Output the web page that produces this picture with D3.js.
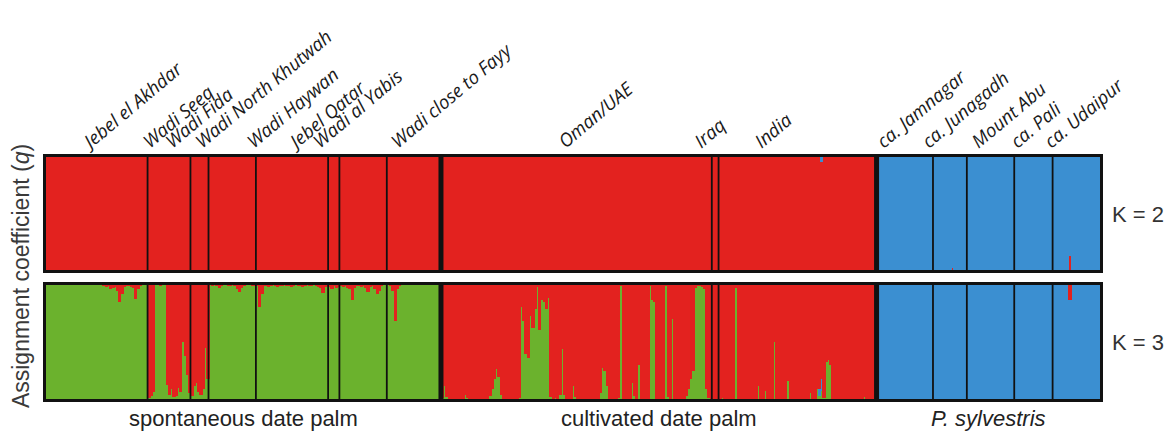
<!DOCTYPE html>
<html>
<head>
<meta charset="utf-8">
<script src="https://cdn.jsdelivr.net/npm/d3@7"></script>
<style>
  body { margin: 0; background: #fff; }
  svg { display: block; }
</style>
</head>
<body>
<svg id="chart" width="1175" height="432"></svg>
<script>
// ---------------------------------------------------------------
// STRUCTURE assignment plot, K = 2 and K = 3
// ---------------------------------------------------------------

const groups = ["spontaneous date palm", "cultivated date palm", "P. sylvestris"];

const populations = [
  "Jebel el Akhdar", "Wadi Seeq", "Wadi Fida", "Wadi North Khutwah", "Wadi Haywan",
  "Jebel Qatar", "Wadi al Yabis", "Wadi close to Fayy",
  "Oman/UAE", "Iraq", "India",
  "ca. Jamnagar", "ca. Junagadh", "Mount Abu", "ca. Pali", "ca. Udaipur"
];
const populationGroup = [0, 0, 0, 0, 0, 0, 0, 0, 1, 1, 1, 2, 2, 2, 2, 2];
const populationSize  = [45, 19, 8, 21, 32, 5, 21, 24, 120, 3, 70, 25, 15, 21, 17, 21];

// K = 3, spontaneous date palm: q of the red cluster per individual (rest green)
const k3RedSpontaneous = [
  [0,0,0,0,0,0,0,0,0,0, 0,0,0,0,0,0,0,0,0,0, 0,0,0,0,0.01, 0.02,0.03,0.02,0.05,0.04,
   0.03,0.06,0.16,0.09,0.03, 0.02,0.02,0.03,0.04,0.13, 0.05,0.02,0.01,0.01,0.01],
  [0.98,0.96,0.93, 0.01,0,0.02,0,0.01, 0.87,0.95,0.9,0.97,0.96,0.89,0.93,0.5,0.62,0.78,0.94],
  [0.96,0.88,0.85,0.93,0.95,0.9,0.55,0.82],
  [0.01,0.02,0.01,0.02,0.04,0.02,0.01,0.01,0.02,0.02,0.01,0.02,0.05,0.07,0.04,0.02,0.01,0.01,0.01,0.02,0.01],
  [0.02,0.2,0.09,0.02,0.02,0.03,0.02,0.01,0.02,0.03, 0.02,0.02,0.01,0.02,0.02,0.03,0.02,0.01,0.02,0.02,
   0.03,0.02,0.01,0.02,0.02,0.01,0.02,0.03,0.04,0.08, 0.03,0.02],
  [0.03,0.05,0.02,0.04,0.03],
  [0.02,0.03,0.02,0.04,0.05,0.14,0.04,0.02,0.02,0.03,0.02,0.04,0.07,0.03,0.02,0.05,0.09,0.06,0.02,0.01,0.01],
  [0.01,0.02,0.06,0.32,0.05,0.02,0.01,0.01,0.01,0,0,0.01,0,0,0,0,0,0,0,0,0,0,0,0]
];

// K = 3, cultivated date palm: q of the green cluster per individual (rest red)
const k3GreenCultivated = [
  [0.02,0.12,0.03,0,0,0,0,0,0,0,
   0.05,0.02,0,0,0,0,0,0,0,0,
   0,0.04,0.1,0.18,0.27,0.2,0.05,0,0,0,
   0,0,0,0,0.02,0.8,0.68,0.4,0.36,0.72,
   0.62,0.78,0.97,0.6,0.86,0.84,0.78,0.88,0.03,0,
   0.02,0,0.05,0.44,0.05,0,0,0,0.12,0.03,
   0,0,0,0,0,0,0,0,0,0,
   0.06,0.28,0.25,0.12,0,0,0,0,0.02,0.98,
   0,0,0,0,0.15,0.04,0,0.3,0,0,
   0,0,0.98,0.86,0.84,0,0,0,0,0.98,
   0.03,0,0.7,0,0,0,0,0,0.04,0.1,
   0.18,0.25,0.96,0.98,0.98,0.97,0.95,0.1,0.02,0],
  [0,0,0],
  [0,0.02,0,0,0,0,0,0.96,0,0,
   0,0,0,0,0,0,0,0.12,0,0,
   0.08,0,0,0,0.5,0,0,0,0,0,
   0.17,0,0,0,0,0,0,0,0,0,
   0.06,0,0,0.1,0.04,0.08,0.02,0.33,0.35,0.3,
   0,0,0,0,0,0,0,0,0,0,
   0,0,0,0,0.03,0,0,0,0,0]
];

// Minor memberships of the few remaining admixed individuals: [population, individual, q]
const k2BlueInDatePalm   = [["India", 45, 0.06]];
const k2RedInSylvestris  = [["ca. Junagadh", 8, 0.03], ["ca. Udaipur", 7, 0.13]];
const k3BlueInDatePalm   = [["India", 44, 0.06], ["India", 45, 0.1]];
const k3RedInSylvestris  = [["ca. Udaipur", 7, 0.14]];

const kLabels = ["K = 2", "K = 3"];

// ---------------------------------------------------------------
// Individuals table
// ---------------------------------------------------------------
function lookup(list, pop, i) {
  const hit = list.find(d => d[0] === pop && d[1] === i);
  return hit ? hit[2] : 0;
}

const individuals = [];
populations.forEach((pop, p) => {
  const g = populationGroup[p];
  for (let i = 0; i < populationSize[p]; i++) {
    const row = { id: pop + "#" + i, pop: p, group: g };
    if (g === 0) {
      const r = k3RedSpontaneous[p][i];
      row.k2 = { red: 1, blue: 0 };
      row.k3 = { green: 1 - r, blue: 0, red: r };
    } else if (g === 1) {
      const gr = k3GreenCultivated[p - 8][i];
      const b3 = lookup(k3BlueInDatePalm, pop, i);
      const b2 = lookup(k2BlueInDatePalm, pop, i);
      row.k2 = { red: 1 - b2, blue: b2 };
      row.k3 = { green: gr, blue: b3, red: Math.max(0, 1 - gr - b3) };
    } else {
      const r2 = lookup(k2RedInSylvestris, pop, i);
      const r3 = lookup(k3RedInSylvestris, pop, i);
      row.k2 = { red: r2, blue: 1 - r2 };
      row.k3 = { green: 0, blue: 1 - r3, red: r3 };
    }
    individuals.push(row);
  }
});

// ---------------------------------------------------------------
// Layout
// ---------------------------------------------------------------
const svg = d3.select("#chart");
const colors = { red: "#e3221f", green: "#6bb22d", blue: "#3b8fd1" };
const FONT = "'Liberation Sans', Arial, Helvetica, sans-serif";

const xLeft = 46, xRight = 1100;
const x = d3.scaleBand().domain(individuals.map(d => d.id)).range([xLeft, xRight]).padding(0);

const panels = [
  { key: "k2", order: ["red", "blue"],          y: d3.scaleLinear([0, 1], [271.5, 155.5]), top: 154, bottom: 273, label: kLabels[0] },
  { key: "k3", order: ["green", "blue", "red"], y: d3.scaleLinear([0, 1], [400.5, 283.5]), top: 282, bottom: 402, label: kLabels[1] }
];

// population and group boundaries
const popStart = [];
{
  let c = 0;
  populationSize.forEach(n => { popStart.push(c); c += n; });
}
const boundaries = popStart.slice(1).map((s, k) => ({
  x: x(individuals[s].id),
  thick: populationGroup[k + 1] !== populationGroup[k]
}));

panels.forEach(panel => {
  const stack = d3.stack()
    .keys(panel.order)
    .value((d, k) => d[panel.key][k])(individuals);

  const gp = svg.append("g");
  stack.forEach(layer => {
    gp.append("g")
      .attr("fill", colors[layer.key])
      .attr("shape-rendering", "crispEdges")
      .selectAll("rect")
      .data(layer.filter(d => d[1] - d[0] > 0))
      .join("rect")
      .attr("x", d => x(d.data.id))
      .attr("width", x.bandwidth() + 1)
      .attr("y", d => panel.y(d[1]))
      .attr("height", d => Math.max(0, panel.y(d[0]) - panel.y(d[1])));
  });

  // separators between populations
  gp.append("g")
    .selectAll("line")
    .data(boundaries)
    .join("line")
    .attr("x1", d => d.x).attr("x2", d => d.x)
    .attr("y1", panel.top).attr("y2", panel.bottom)
    .attr("stroke", "#111")
    .attr("stroke-width", d => d.thick ? 5 : 1.8);

  // frame
  gp.append("rect")
    .attr("x", xLeft - 1.5).attr("y", panel.top + 1.5)
    .attr("width", xRight - xLeft + 3).attr("height", panel.bottom - panel.top - 3)
    .attr("fill", "none").attr("stroke", "#111").attr("stroke-width", 3);

  // K label
  svg.append("text")
    .attr("x", 1112)
    .attr("y", (panel.top + panel.bottom) / 2 + 8)
    .attr("font-family", FONT).attr("font-size", 22).attr("fill", "#333")
    .text(panel.label);
});

// population labels, slanted
const labelDx = [-6, -19, -27, -30, -38, -37, -43, -16, -11, -14, -36, -21, -21, -12, -16, -25];
svg.append("g")
  .selectAll("text")
  .data(populations)
  .join("text")
  .attr("transform", (d, p) => {
    const s = x(individuals[popStart[p]].id);
    const e = x(individuals[popStart[p] + populationSize[p] - 1].id) + x.bandwidth();
    return `translate(${(s + e) / 2 + labelDx[p]},149) rotate(-40)`;
  })
  .attr("font-family", "'Open Sans', 'DejaVu Sans', sans-serif")
  .attr("font-style", "italic")
  .attr("font-size", 18.5)
  .attr("fill", "#1a1a1a")
  .text(d => d);

// group labels under the plot
svg.append("g")
  .selectAll("text")
  .data(groups)
  .join("text")
  .attr("x", (d, g) => {
    const members = individuals.filter(r => r.group === g);
    return (x(members[0].id) + x(members[members.length - 1].id) + x.bandwidth()) / 2;
  })
  .attr("y", 426)
  .attr("text-anchor", "middle")
  .attr("font-family", FONT)
  .attr("font-size", 22)
  .attr("font-style", (d, g) => g === 2 ? "italic" : "normal")
  .attr("fill", "#222")
  .text(d => d);

// y axis title
const yTitle = svg.append("text")
  .attr("transform", "translate(29,276) rotate(-90)")
  .attr("text-anchor", "middle")
  .attr("font-family", FONT)
  .attr("font-size", 23)
  .attr("fill", "#3a3a3a");
yTitle.append("tspan").text("Assignment coefficient (");
yTitle.append("tspan").attr("font-style", "italic").text("q");
yTitle.append("tspan").text(")");
</script>
</body>
</html>
